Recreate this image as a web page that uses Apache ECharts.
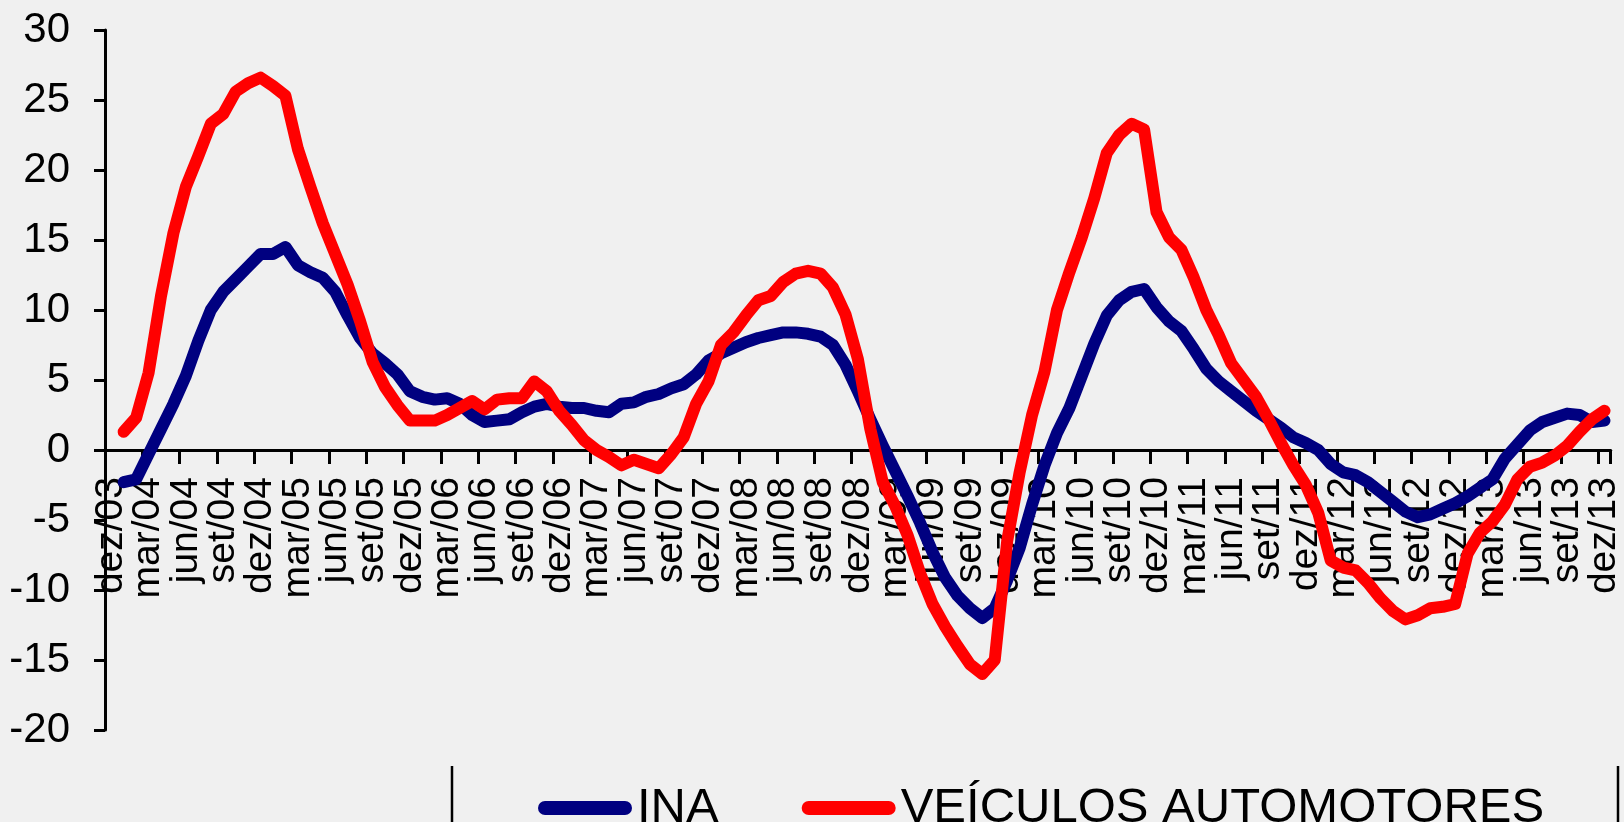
<!DOCTYPE html>
<html>
<head>
<meta charset="utf-8">
<script src="https://cdn.jsdelivr.net/npm/echarts@6/dist/echarts.min.js"></script>
<style>
  html, body { margin: 0; padding: 0; background: #f0f0f0; }
  #chart { width: 1624px; height: 822px; }
</style>
</head>
<body>
<div id="chart"></div>
<script>
// Month abbreviations (Portuguese) and years used for category labels
var monthNames = ['jan','fev','mar','abr','mai','jun','jul','ago','set','out','nov','dez'];
var categories = ['dez/03'];
for (var y = 4; y <= 13; y++) {
  for (var m = 0; m < 12; m++) {
    categories.push(monthNames[m] + '/' + (y < 10 ? '0' + y : '' + y));
  }
}
// quarterly label positions: dez/03, mar/04, jun/04, ... dez/13
var labelIndices = [];
for (var k = 0; k < categories.length; k += 3) labelIndices.push(k);
// the second and second-to-last quarterly labels (mar/04, set/13) are drawn by a helper axis
var edgeNeighbourIndices = [labelIndices[1], labelIndices[labelIndices.length - 2]];

var seriesNames = ['INA', 'VEÍCULOS AUTOMOTORES'];

// INA (dez/03 .. dez/13), first month without value
var ina = [null,
  -2.3, -2.1, -0.3, 1.5, 3.3, 5.3, 7.8, 10.0, 11.3, 12.2, 13.1, 14.0,
  14.0, 14.5, 13.2, 12.7, 12.3, 11.3, 9.6, 8.0, 6.9, 6.2, 5.4, 4.2,
  3.8, 3.6, 3.7, 3.3, 2.5, 2.0, 2.1, 2.2, 2.7, 3.1, 3.3, 3.1,
  3.0, 3.0, 2.8, 2.7, 3.3, 3.4, 3.8, 4.0, 4.4, 4.7, 5.4, 6.4,
  6.9, 7.3, 7.7, 8.0, 8.2, 8.4, 8.4, 8.3, 8.1, 7.5, 6.1, 4.2,
  2.2, 0.3, -1.5, -3.3, -5.2, -7.3, -9.1, -10.4, -11.3, -12.0, -11.3, -9.3,
  -7.0, -3.9, -1.1, 1.2, 3.0, 5.3, 7.6, 9.6, 10.7, 11.3, 11.5, 10.2,
  9.2, 8.5, 7.2, 5.8, 4.9, 4.2, 3.5, 2.8, 2.2, 1.6, 0.9, 0.5,
  0.0, -1.0, -1.6, -1.8, -2.3, -3.0, -3.7, -4.4, -4.8, -4.6, -4.2, -3.8,
  -3.3, -2.7, -2.1, -0.6, 0.4, 1.4, 2.0, 2.3, 2.6, 2.5, 2.0, 2.1
];

// VEÍCULOS AUTOMOTORES (dez/03 .. dez/13), first month without value
var veiculos = [null,
  1.3, 2.3, 5.5, 11.0, 15.5, 18.8, 21.0, 23.3, 24.0, 25.6, 26.2, 26.6,
  26.0, 25.3, 21.5, 18.8, 16.2, 14.0, 11.8, 9.2, 6.3, 4.5, 3.2, 2.1,
  2.1, 2.1, 2.5, 3.0, 3.5, 2.9, 3.6, 3.7, 3.7, 4.9, 4.2, 2.8,
  1.8, 0.7, 0.0, -0.5, -1.1, -0.7, -1.0, -1.3, -0.3, 0.9, 3.3, 4.9,
  7.5, 8.4, 9.6, 10.7, 11.0, 12.0, 12.6, 12.8, 12.6, 11.6, 9.7, 6.5,
  1.5, -2.3, -4.0, -6.1, -8.8, -11.0, -12.6, -14.0, -15.3, -16.0, -15.0, -6.5,
  -1.6, 2.5, 5.6, 10.0, 12.7, 15.2, 18.0, 21.2, 22.5, 23.3, 22.9, 17.0,
  15.2, 14.3, 12.3, 10.0, 8.2, 6.2, 5.0, 3.8, 2.2, 0.5, -1.1, -2.5,
  -4.5, -7.9, -8.4, -8.6, -9.5, -10.6, -11.5, -12.1, -11.8, -11.3, -11.2, -11.0,
  -7.4, -5.9, -5.1, -3.9, -2.1, -1.2, -0.9, -0.4, 0.3, 1.3, 2.2, 2.8
];

var yTicks = { min: -20, max: 30, interval: 5 };
var FONT = 'Liberation Sans, Arial, sans-serif';

var gridTop = 30, gridBottom = 92, chartH = 822;
var plotH = chartH - gridTop - gridBottom;
// pixel distance from plot bottom up to the zero value (derived from the axis range)
var zeroOffset = plotH * (0 - yTicks.min) / (yTicks.max - yTicks.min);

var xLabelStyle = {
  rotate: 90,
  margin: 27,
  color: '#000',
  fontFamily: FONT,
  fontSize: 39,
  lineHeight: 28,
  hideOverlap: false
};

var chart = echarts.init(document.getElementById('chart'), null, { renderer: 'canvas' });
chart.setOption({
  animation: false,
  backgroundColor: '#f0f0f0',
  textStyle: { fontFamily: FONT },
  grid: { left: 105, right: 13, top: gridTop, bottom: gridBottom, containLabel: false },
  legend: {
    data: seriesNames,
    left: 533,
    top: 775,
    itemWidth: 94,
    itemHeight: 14,
    itemGap: 83,
    icon: 'path://M7,0 L87,0 A7,7 0 0 1 87,14 L7,14 A7,7 0 0 1 7,0 Z',
    textStyle: { fontFamily: FONT, fontSize: 49, color: '#000', lineHeight: 56 }
  },
  xAxis: [
    {
      type: 'category',
      data: categories,
      boundaryGap: true,
      position: 'bottom',
      offset: -zeroOffset,
      axisLine: { onZero: false, lineStyle: { color: '#000', width: 3 } },
      axisTick: { show: true, interval: 2, length: 14, lineStyle: { color: '#000', width: 3 } },
      axisLabel: Object.assign({}, xLabelStyle, {
        customValues: labelIndices,
        showMinLabel: true,
        showMaxLabel: true
      }),
      splitLine: { show: false }
    },
    {
      type: 'category',
      data: categories,
      boundaryGap: true,
      position: 'bottom',
      offset: -zeroOffset,
      axisLine: { show: false, onZero: false },
      axisTick: { show: false },
      axisLabel: Object.assign({}, xLabelStyle, {
        customValues: edgeNeighbourIndices,
        showMinLabel: true,
        showMaxLabel: true
      }),
      splitLine: { show: false }
    }
  ],
  yAxis: {
    type: 'value',
    min: yTicks.min,
    max: yTicks.max,
    interval: yTicks.interval,
    axisLine: { show: true, lineStyle: { color: '#000', width: 3 } },
    axisTick: { show: true, length: 11, lineStyle: { color: '#000', width: 3 } },
    axisLabel: { color: '#000', fontFamily: FONT, fontSize: 42, margin: 35 },
    splitLine: { show: false }
  },
  series: [
    {
      name: seriesNames[0],
      type: 'line',
      xAxisIndex: 0,
      data: ina,
      showSymbol: false,
      symbol: 'none',
      connectNulls: false,
      lineStyle: { color: '#000080', width: 12, cap: 'round', join: 'round' },
      itemStyle: { color: '#000080' },
      z: 3
    },
    {
      name: seriesNames[1],
      type: 'line',
      xAxisIndex: 0,
      data: veiculos,
      showSymbol: false,
      symbol: 'none',
      connectNulls: false,
      lineStyle: { color: '#ff0000', width: 12, cap: 'round', join: 'round' },
      itemStyle: { color: '#ff0000' },
      z: 4
    }
  ],
  graphic: [
    { type: 'line', shape: { x1: 452, y1: 766, x2: 452, y2: 822 }, style: { stroke: '#000', lineWidth: 2.5 } },
    { type: 'line', shape: { x1: 1618, y1: 766, x2: 1618, y2: 822 }, style: { stroke: '#000', lineWidth: 2.5 } }
  ]
});
</script>
</body>
</html>
